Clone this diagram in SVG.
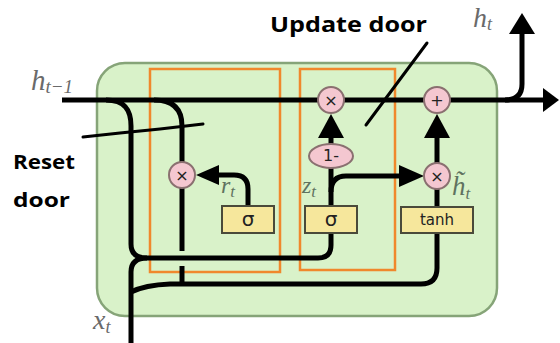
<svg xmlns="http://www.w3.org/2000/svg" width="560" height="343" viewBox="0 0 560 343">
<style>
.wire{fill:none;stroke:#000;stroke-width:5;stroke-linecap:butt}
.ptr{fill:none;stroke:#000;stroke-width:3;stroke-linecap:round}
.head{fill:#000}
.op{fill:#f4c7d0;stroke:#8a7070;stroke-width:2}
.opt{font-family:"DejaVu Sans",sans-serif;font-size:16px;fill:#222;text-anchor:middle}
.box{fill:#f6e79c;stroke:#4a4a3a;stroke-width:2}
.boxt{font-family:"DejaVu Sans",sans-serif;fill:#222;text-anchor:middle}
.gate{fill:none;stroke:#f0882c;stroke-width:2.5}
.math{font-family:"Liberation Serif","DejaVu Serif",serif;font-style:italic;fill:#6a6a6a}
.mathg{font-family:"Liberation Serif","DejaVu Serif",serif;font-style:italic;fill:#5f725f}
.note{font-family:"Open Sans","DejaVu Sans",sans-serif;font-weight:bold;fill:#000}
</style>
<rect width="560" height="343" fill="#fff"/>
<g id="cell">
<rect x="97" y="63" width="400" height="253" rx="28" fill="#d9f2c9" stroke="#86a478" stroke-width="2.5"/>
</g>
<g id="reset-gate-box"><rect class="gate" x="150" y="69" width="130" height="203"/></g>
<g id="update-gate-box"><rect class="gate" x="300" y="69" width="95" height="201"/></g>
<g id="connectors">
<path class="wire" d="M62,100 H545"/>
<polygon class="head" points="543,88 559,100 543,112"/>
<path class="wire" d="M505,100 Q522,100 522,84 V32"/>
<polygon class="head" points="509,34 522,13 535,34"/>
<path class="wire" d="M106,100 C125,100 131,110 131,126 V244 Q131,258 147,258 H318 Q331,258 331,245 V233"/>
<path class="wire" d="M131,343 V272 Q131,258 147,258"/>
<path class="wire" d="M131,292 Q145,285 170,284 H421 Q437,284 437,268 V233"/>
<path class="wire" d="M154,100 C174,100 182,110 182,126 V163"/>
<path class="wire" d="M182,187 V251"/>
<path class="wire" d="M182,266 V284"/>
<path class="wire" d="M248,206 V189 Q248,175 234,175 H216"/>
<polygon class="head" points="219,165 196,175 219,185"/>
<path class="wire" d="M331,206 V167"/>
<path class="wire" d="M331,192 Q331,176 346,176 H401"/>
<polygon class="head" points="399,165 424,176 399,187"/>
<path class="wire" d="M331,144 V135"/>
<polygon class="head" points="318,138 331,114 344,138"/>
<path class="wire" d="M437,207 V188"/>
<path class="wire" d="M437,164 V135"/>
<polygon class="head" points="424,138 437,114 450,138"/>
<path class="ptr" d="M83,137 L120,133 L160,129 L203,124"/>
<path class="ptr" d="M427,43 L366,125"/>
</g>
<g id="reset-mult"><circle class="op" cx="182" cy="175" r="13"/><text class="opt" x="182" y="181">×</text></g>
<g id="update-mult"><circle class="op" cx="331" cy="100" r="13"/><text class="opt" x="331" y="106">×</text></g>
<g id="one-minus"><ellipse class="op" cx="331" cy="156" rx="22" ry="12"/><text class="opt" x="331" y="161">1-</text></g>
<g id="add"><circle class="op" cx="437" cy="100" r="13"/><text class="opt" x="437" y="106">+</text></g>
<g id="cand-mult"><circle class="op" cx="437" cy="176" r="13"/><text class="opt" x="437" y="182">×</text></g>
<g id="sigma-r"><rect class="box" x="222" y="206" width="52" height="27"/><text class="boxt" x="248" y="226" font-size="20">σ</text></g>
<g id="sigma-z"><rect class="box" x="305" y="206" width="52" height="27"/><text class="boxt" x="331" y="226" font-size="20">σ</text></g>
<g id="tanh"><rect class="box" x="401" y="207" width="72" height="26"/><text class="boxt" x="437" y="225" font-size="15">tanh</text></g>
<g id="labels">
<text class="math" x="31" y="90" font-size="29">h<tspan font-size="19" dy="3">t−1</tspan></text>
<text class="math" x="473" y="27" font-size="28">h<tspan font-size="18" dy="3">t</tspan></text>
<text class="math" x="93" y="329" font-size="28">x<tspan font-size="18" dy="4">t</tspan></text>
<text class="mathg" x="221" y="193" font-size="24">r<tspan font-size="17" dy="4">t</tspan></text>
<text class="mathg" x="302" y="193" font-size="24">z<tspan font-size="17" dy="4">t</tspan></text>
<text class="mathg" x="452" y="195" font-size="27">h̃<tspan font-size="17" dy="4">t</tspan></text>
</g>
<g id="annotations">
<text class="note" x="270" y="32" font-size="21" textLength="157" lengthAdjust="spacingAndGlyphs">Update door</text>
<text class="note" x="13" y="169" font-size="19" textLength="62" lengthAdjust="spacingAndGlyphs">Reset</text>
<text class="note" x="13" y="207" font-size="19" textLength="57" lengthAdjust="spacingAndGlyphs">door</text>
</g>
</svg>
